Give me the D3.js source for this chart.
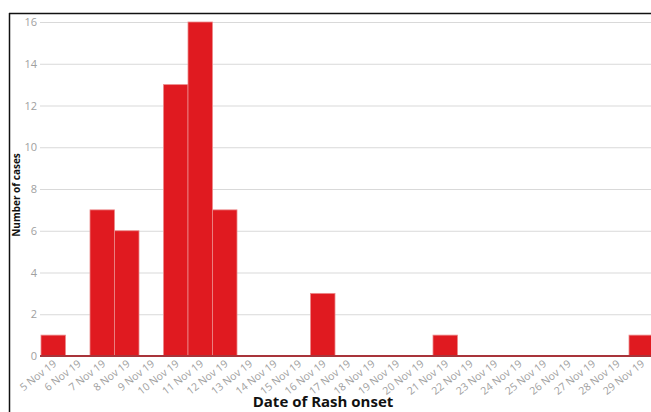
<!DOCTYPE html>
<html><head><meta charset="utf-8">
<script src="https://cdn.jsdelivr.net/npm/d3@7"></script>
<style>body{margin:0;background:#fff}svg{display:block}</style>
</head><body>
<script>
const categories = ["5 Nov 19","6 Nov 19","7 Nov 19","8 Nov 19","9 Nov 19","10 Nov 19","11 Nov 19","12 Nov 19","13 Nov 19","14 Nov 19","15 Nov 19","16 Nov 19","17 Nov 19","18 Nov 19","19 Nov 19","20 Nov 19","21 Nov 19","22 Nov 19","23 Nov 19","24 Nov 19","25 Nov 19","26 Nov 19","27 Nov 19","28 Nov 19","29 Nov 19"];
const cases = [1,0,7,6,0,13,16,7,0,0,0,3,0,0,0,0,1,0,0,0,0,0,0,0,1];
const yTicks = [0,2,4,6,8,10,12,14,16];

const W = 651, H = 412;
const svg = d3.select("body").append("svg").attr("width", W).attr("height", H);
const font = "'Open Sans', 'DejaVu Sans', sans-serif";

const x = d3.scaleBand().domain(categories).range([41, 653.5]).padding(0);
const y = d3.scaleLinear().domain([0, 16]).range([356, 22]);

// frame lines (top & left)
svg.append("line").attr("x1", 9).attr("x2", W).attr("y1", 13.5).attr("y2", 13.5).attr("stroke", "#111").attr("stroke-width", 1.5);
svg.append("line").attr("x1", 9.5).attr("x2", 9.5).attr("y1", 13).attr("y2", H).attr("stroke", "#111").attr("stroke-width", 1.5);

// gridlines + y labels
const yAxis = d3.axisLeft(y).tickValues(yTicks).tickSize(-(W - 40)).tickPadding(3);
const gy = svg.append("g").attr("transform", "translate(40,0)").call(yAxis);
gy.select(".domain").remove();
gy.selectAll(".tick line").attr("stroke", "#d9d9d9").attr("stroke-width", 1);
gy.selectAll(".tick text").attr("fill", "#a0a0a0").style("font-family", font).style("font-size", "11px");

// bars
svg.append("g").selectAll("rect").data(categories).join("rect")
  .attr("x", d => x(d))
  .attr("y", (d, i) => y(cases[i]))
  .attr("width", x.bandwidth())
  .attr("height", (d, i) => y(0) - y(cases[i]))
  .attr("fill", "#e01a20")
  .attr("stroke", "#ec8a8a")
  .attr("stroke-width", 0.8);

// baseline
svg.append("line").attr("x1", 40).attr("x2", W).attr("y1", y(0)).attr("y2", y(0)).attr("stroke", "#a8343a").attr("stroke-width", 2);

// x axis labels
const xAxis = d3.axisBottom(x).tickSize(0).tickPadding(0);
const gx = svg.append("g").attr("transform", `translate(0,${y(0)})`).call(xAxis);
gx.select(".domain").remove();
gx.selectAll(".tick text")
  .attr("fill", "#a0a0a0")
  .style("font-family", font).style("font-size", "10.5px")
  .attr("text-anchor", "end")
  .attr("y", 0).attr("dy", 0)
  .attr("transform", "translate(4,9) rotate(-38)");

// axis titles
svg.append("text").attr("x", 323).attr("y", 407).attr("text-anchor", "middle")
  .style("font-family", font).style("font-size", "15px").style("font-weight", "bold").attr("fill", "#111")
  .text("Date of Rash onset");
svg.append("text").attr("transform", "translate(20,195) rotate(-90)").attr("text-anchor", "middle")
  .style("font-family", font).style("font-size", "10px").style("font-weight", "bold").attr("fill", "#111")
  .text("Number of cases");
</script>
</body></html>
